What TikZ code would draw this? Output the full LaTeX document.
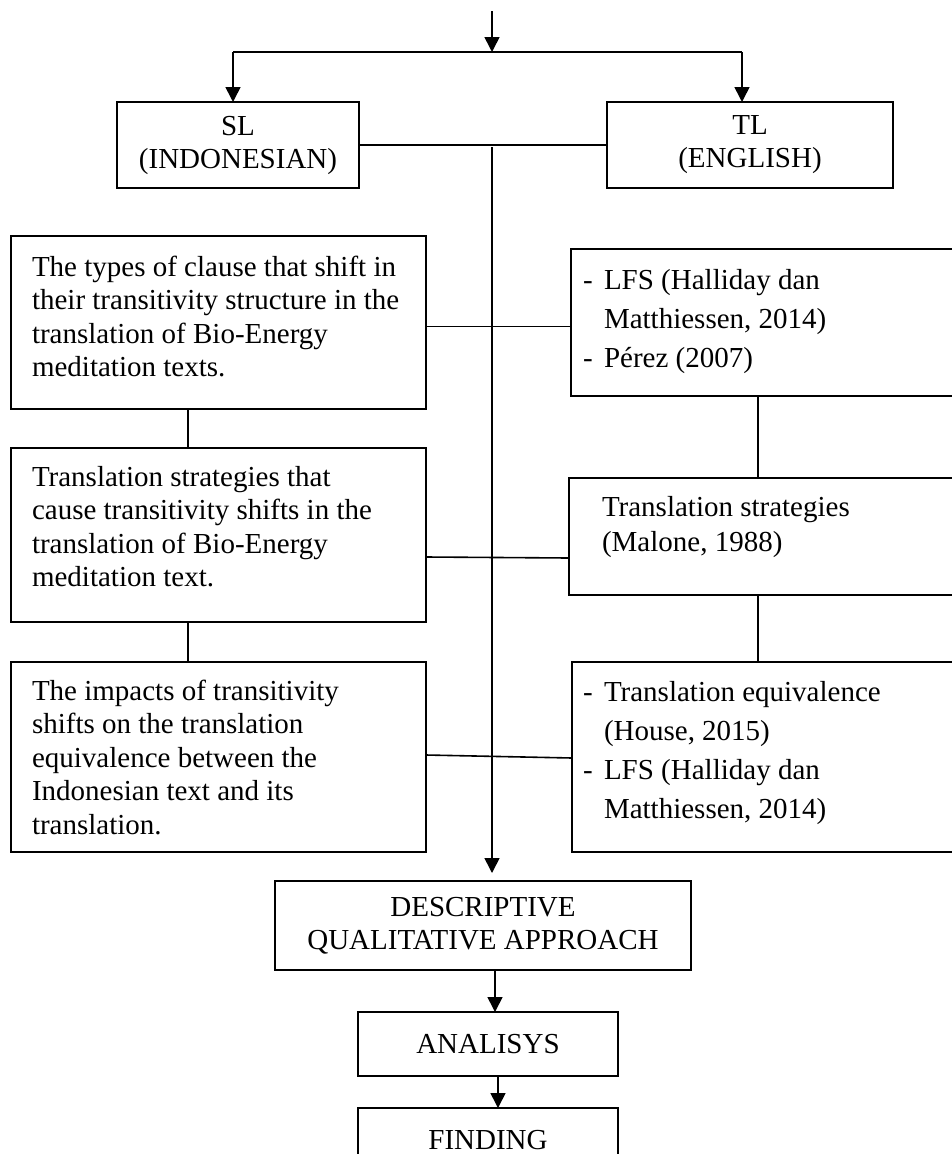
\documentclass[tikz,border=0pt]{standalone}
\usepackage{fontspec}
\setmainfont{Liberation Serif}
\usetikzlibrary{arrows.meta}

\begin{document}
\begin{tikzpicture}[x=1pt, y=-1pt,
  line width=1.6pt,
  arr/.style={-{Triangle[length=15pt,width=15pt]}},
  frame/.style={draw, line width=1.6pt, inner sep=0pt, outer sep=0pt, anchor=north west},
  body/.style={anchor=north west, inner sep=0pt, outer sep=0pt, align=left,
               font=\fontsize{29}{33.5}\selectfont},
  refs/.style={body, font=\fontsize{29}{39}\selectfont},
  label/.style={draw, line width=1.6pt, inner sep=0pt, outer sep=0pt, align=center,
                font=\fontsize{29}{33}\selectfont}]
\newcommand{\li}{\makebox[21pt][l]{-}}
\newcommand{\lj}{\hspace*{21pt}}

\useasboundingbox (0,0) rectangle (952,1154);
\clip (0,0) rectangle (952,1154);

% source / target language
\node[label, minimum width=242pt, minimum height=86pt] (sl) at (238,145) {SL\\(INDONESIAN)};
\node[label, minimum width=286pt, minimum height=86pt] (tl) at (750,145) {TL\\(ENGLISH)};

% left column: research questions
\node[frame, minimum width=415pt, minimum height=173pt] (l1) at (11,236) {};
\node[body] (l1t) at (32,256) {The types of clause that shift in\\their transitivity structure in the\\translation of Bio-Energy\\meditation texts.};
\node[frame, minimum width=415pt, minimum height=174pt] (l2) at (11,448) {};
\node[body] (l2t) at (32,466) {Translation strategies that\\cause transitivity shifts in the\\translation of Bio-Energy\\meditation text.};
\node[frame, minimum width=415pt, minimum height=190pt] (l3) at (11,662) {};
\node[body] (l3t) at (32,680) {The impacts of transitivity\\shifts on the translation\\equivalence between the\\Indonesian text and its\\translation.};

% right column: theories
\node[frame, minimum width=400pt, minimum height=147pt] (r1) at (571,249) {};
\node[refs] (r1t) at (583,269) {\li LFS (Halliday dan\\\lj Matthiessen, 2014)\\\li P\'erez (2007)};
\node[frame, minimum width=400pt, minimum height=117pt] (r2) at (569,478) {};
\node[refs, font=\fontsize{29}{35}\selectfont] (r2t) at (602,496) {Translation strategies\\(Malone, 1988)};
\node[frame, minimum width=400pt, minimum height=190pt] (r3) at (572,662) {};
\node[refs] (r3t) at (583,681) {\li Translation equivalence\\\lj(House, 2015)\\\li LFS (Halliday dan\\\lj Matthiessen, 2014)};

% method and outcome
\node[label, minimum width=416pt, minimum height=89pt] (desc) at (483,925.5) {DESCRIPTIVE\\QUALITATIVE APPROACH};
\node[label, minimum width=260pt, minimum height=64pt] (ana) at (488,1044) {ANALISYS};
\node[label, minimum width=260pt, minimum height=64pt] (find) at (488,1140) {FINDING};

% top split
\coordinate (start) at (492,11);
\coordinate (split) at (492,52);
\coordinate (busL) at (233,52);
\coordinate (busR) at (742,52);
\draw[arr] (start) -- (split);
\draw (busL) -- (busR);
\draw[arr] (busL) -- (busL |- sl.north);
\draw[arr] (busR) -- (busR |- tl.north);
\draw (sl.east) -- (tl.west);

% central spine
\coordinate (spine) at (492,147);
\draw[arr, shorten >=8pt] (spine) -- (spine |- desc.north);

% horizontal links between the columns
\draw ([yshift=-4pt]l1.east) -- ([yshift=-4pt]r1.west);
\draw ([yshift=-22pt]l2.east) -- ([yshift=-21.5pt]r2.west);
\draw ([yshift=2pt]l3.east) -- ([yshift=-1pt]r3.west);

% vertical links inside the columns
\coordinate (lx) at (188,0);
\coordinate (rx) at (758,0);
\draw (l1.south -| lx) -- (l2.north -| lx);
\draw (l2.south -| lx) -- (l3.north -| lx);
\draw (r1.south -| rx) -- (r2.north -| rx);
\draw (r2.south -| rx) -- (r3.north -| rx);

% downward flow
\draw[arr] ([xshift=12pt]desc.south) -- ([xshift=7pt]ana.north);
\draw[arr] ([xshift=10pt]ana.south) -- ([xshift=10pt]find.north);
\end{tikzpicture}
\end{document}
